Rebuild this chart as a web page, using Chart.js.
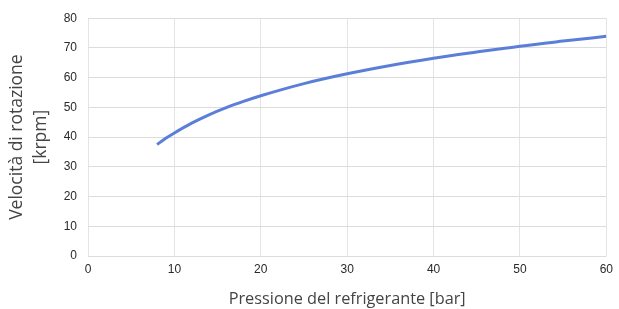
<!DOCTYPE html>
<html><head><meta charset="utf-8">
<script src="https://cdn.jsdelivr.net/npm/chart.js@4"></script>
<style>html,body{margin:0;padding:0;background:#fff}#c{display:block}</style>
</head><body>
<canvas id="c" width="619" height="309"></canvas>
<script>
const pressure = [8, 9, 10, 12, 14, 16, 18, 20, 25, 30, 35, 40, 45, 50, 55, 60];
const speed = [37.5, 39.6, 41.4, 44.7, 47.5, 49.9, 52.0, 53.9, 58.0, 61.3, 64.1, 66.5, 68.6, 70.6, 72.3, 73.9];
const xTitle = 'Pressione del refrigerante [bar]';
const yTitle = ['Velocità di rotazione', '[krpm]'];

const pts = pressure.map((x, i) => ({x: x, y: speed[i]}));
new Chart(document.getElementById('c'), {
  type: 'scatter',
  data: { datasets: [{ data: pts, showLine: true, borderColor: '#5b7fd8', borderWidth: 3, pointRadius: 0, tension: 0.4, cubicInterpolationMode: 'monotone', fill: false }] },
  options: {
    responsive: false, animation: false,
    layout: { padding: { top: 18, right: 11, left: 0, bottom: 0 } },
    plugins: { legend: { display: false }, tooltip: { enabled: false } },
    scales: {
      x: {
        type: 'linear', min: 0, max: 60,
        ticks: { stepSize: 10, color: '#2a2a2a', font: { family: 'Liberation Sans', size: 12 }, padding: 6, maxRotation: 0 },
        grid: { color: '#e4e4e4', drawTicks: false },
        border: { display: false },
        title: { display: true, text: xTitle, color: '#444', font: { family: 'Open Sans', size: 16.3 }, padding: { top: 8, bottom: 0 } },
        afterFit: (s) => { s.height = 53; }
      },
      y: {
        min: 0, max: 80,
        ticks: { stepSize: 10, color: '#2a2a2a', font: { family: 'Liberation Sans', size: 12 }, padding: 11 },
        grid: { color: '#dcdcdc', drawTicks: false },
        border: { display: false },
        title: { display: true, text: yTitle, color: '#444', font: { family: 'Open Sans', size: 17.5, lineHeight: 1.37 }, padding: { top: 5, bottom: 0 } },
        afterFit: (s) => { s.width = 88; }
      }
    }
  }
});
</script>
</body></html>
